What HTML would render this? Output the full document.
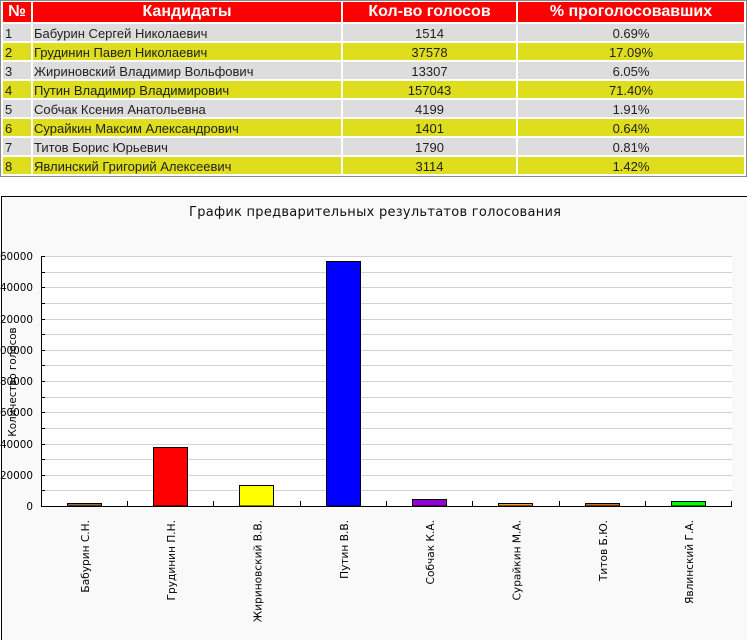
<!DOCTYPE html>
<html><head><meta charset="utf-8">
<style>
html,body{margin:0;padding:0;background:#fff;}
body{width:747px;height:640px;position:relative;overflow:hidden;font-family:"Liberation Sans",Arial,sans-serif;}
.tb{position:absolute;left:0;top:0;width:745px;height:175px;border:1px solid #8a8a8a;}
.c{position:absolute;height:17px;line-height:17px;font-size:13px;color:#222;white-space:nowrap;overflow:hidden;padding-top:1px;box-sizing:border-box;}
.h{position:absolute;top:2px;height:20px;line-height:20px;font-size:16px;font-weight:bold;color:#fff;background:#ff0000;text-align:center;white-space:nowrap;}
.g{background:#dddddd;}
.y{background:#dede1e;}
.c1{left:3px;width:28px;padding-left:2px;}
.c2{left:33px;width:308px;padding-left:1px;}
.c3{left:343px;width:173px;text-align:center;}
.c4{left:518px;width:226px;text-align:center;}
svg{position:absolute;left:0;top:0;}
</style></head><body>
<div class="tb"></div>
<div class="h" style="left:3px;width:28px;">№</div>
<div class="h" style="left:33px;width:308px;">Кандидаты</div>
<div class="h" style="left:343px;width:173px;">Кол-во голосов</div>
<div class="h" style="left:518px;width:226px;">% проголосовавших</div>

<div class="c g c1" style="top:24px">1</div><div class="c g c2" style="top:24px">Бабурин Сергей Николаевич</div><div class="c g c3" style="top:24px">1514</div><div class="c g c4" style="top:24px">0.69%</div>
<div class="c y c1" style="top:43px">2</div><div class="c y c2" style="top:43px">Грудинин Павел Николаевич</div><div class="c y c3" style="top:43px">37578</div><div class="c y c4" style="top:43px">17.09%</div>
<div class="c g c1" style="top:62px">3</div><div class="c g c2" style="top:62px">Жириновский Владимир Вольфович</div><div class="c g c3" style="top:62px">13307</div><div class="c g c4" style="top:62px">6.05%</div>
<div class="c y c1" style="top:81px">4</div><div class="c y c2" style="top:81px">Путин Владимир Владимирович</div><div class="c y c3" style="top:81px">157043</div><div class="c y c4" style="top:81px">71.40%</div>
<div class="c g c1" style="top:100px">5</div><div class="c g c2" style="top:100px">Собчак Ксения Анатольевна</div><div class="c g c3" style="top:100px">4199</div><div class="c g c4" style="top:100px">1.91%</div>
<div class="c y c1" style="top:119px">6</div><div class="c y c2" style="top:119px">Сурайкин Максим Александрович</div><div class="c y c3" style="top:119px">1401</div><div class="c y c4" style="top:119px">0.64%</div>
<div class="c g c1" style="top:138px">7</div><div class="c g c2" style="top:138px">Титов Борис Юрьевич</div><div class="c g c3" style="top:138px">1790</div><div class="c g c4" style="top:138px">0.81%</div>
<div class="c y c1" style="top:157px">8</div><div class="c y c2" style="top:157px">Явлинский Григорий Алексеевич</div><div class="c y c3" style="top:157px">3114</div><div class="c y c4" style="top:157px">1.42%</div>

<svg width="747" height="640" viewBox="0 0 747 640" xmlns="http://www.w3.org/2000/svg" font-family="DejaVu Sans, sans-serif">
<rect x="1" y="196" width="746" height="444" fill="#f9f9f9"/>
<line x1="1" y1="196.5" x2="747" y2="196.5" stroke="#000" stroke-width="1"/>
<line x1="1.5" y1="196" x2="1.5" y2="640" stroke="#000" stroke-width="1"/>
<text x="375" y="216" font-size="13" text-anchor="middle" fill="#111" textLength="372" lengthAdjust="spacing">График предварительных результатов голосования</text>
<rect x="41" y="256" width="691" height="250" fill="#fff"/>
<g stroke="#d2d2d2" stroke-width="1">
<line x1="41" y1="256.5" x2="732" y2="256.5"/>
<line x1="41" y1="272.5" x2="732" y2="272.5"/>
<line x1="41" y1="287.5" x2="732" y2="287.5"/>
<line x1="41" y1="303.5" x2="732" y2="303.5"/>
<line x1="41" y1="319.5" x2="732" y2="319.5"/>
<line x1="41" y1="334.5" x2="732" y2="334.5"/>
<line x1="41" y1="350.5" x2="732" y2="350.5"/>
<line x1="41" y1="365.5" x2="732" y2="365.5"/>
<line x1="41" y1="381.5" x2="732" y2="381.5"/>
<line x1="41" y1="397.5" x2="732" y2="397.5"/>
<line x1="41" y1="412.5" x2="732" y2="412.5"/>
<line x1="41" y1="428.5" x2="732" y2="428.5"/>
<line x1="41" y1="444.5" x2="732" y2="444.5"/>
<line x1="41" y1="459.5" x2="732" y2="459.5"/>
<line x1="41" y1="475.5" x2="732" y2="475.5"/>
<line x1="41" y1="490.5" x2="732" y2="490.5"/>
</g>
<g stroke="#000" stroke-width="1">
<line x1="41" y1="256.5" x2="45" y2="256.5"/>
<line x1="41" y1="272.5" x2="45" y2="272.5"/>
<line x1="41" y1="287.5" x2="45" y2="287.5"/>
<line x1="41" y1="303.5" x2="45" y2="303.5"/>
<line x1="41" y1="319.5" x2="45" y2="319.5"/>
<line x1="41" y1="334.5" x2="45" y2="334.5"/>
<line x1="41" y1="350.5" x2="45" y2="350.5"/>
<line x1="41" y1="365.5" x2="45" y2="365.5"/>
<line x1="41" y1="381.5" x2="45" y2="381.5"/>
<line x1="41" y1="397.5" x2="45" y2="397.5"/>
<line x1="41" y1="412.5" x2="45" y2="412.5"/>
<line x1="41" y1="428.5" x2="45" y2="428.5"/>
<line x1="41" y1="444.5" x2="45" y2="444.5"/>
<line x1="41" y1="459.5" x2="45" y2="459.5"/>
<line x1="41" y1="475.5" x2="45" y2="475.5"/>
<line x1="41" y1="490.5" x2="45" y2="490.5"/>
</g>
<g font-size="10.4" text-anchor="end" fill="#000">
<text x="33" y="260">160000</text>
<text x="33" y="291">140000</text>
<text x="33" y="323">120000</text>
<text x="33" y="354">100000</text>
<text x="33" y="385">80000</text>
<text x="33" y="416">60000</text>
<text x="33" y="448">40000</text>
<text x="33" y="479">20000</text>
<text x="33" y="510">0</text>
</g>
<text transform="translate(16,382) rotate(-90)" font-size="10.3" text-anchor="middle" fill="#000">Количество голосов</text>

<g stroke="#000" stroke-width="1">
<rect x="67.5" y="503.5" width="34" height="2.5" fill="#9c6a3c"/>
<rect x="153.5" y="447.5" width="34" height="58.5" fill="#ff0000"/>
<rect x="239.5" y="485.5" width="34" height="20.5" fill="#ffff00"/>
<rect x="326.5" y="261.5" width="34" height="244.5" fill="#0000ff"/>
<rect x="412.5" y="499.5" width="34" height="6.5" fill="#9400d3"/>
<rect x="498.5" y="503.5" width="34" height="2.5" fill="#f0a030"/>
<rect x="585.5" y="503.5" width="34" height="2.5" fill="#d2691e"/>
<rect x="671.5" y="501.5" width="34" height="4.5" fill="#00ff00"/>
</g>
<g stroke="#000" stroke-width="1">
<line x1="41.5" y1="256" x2="41.5" y2="507"/>
<line x1="41" y1="506.5" x2="732" y2="506.5"/>
<line x1="127.5" y1="501" x2="127.5" y2="506"/>
<line x1="213.5" y1="501" x2="213.5" y2="506"/>
<line x1="300.5" y1="501" x2="300.5" y2="506"/>
<line x1="386.5" y1="501" x2="386.5" y2="506"/>
<line x1="472.5" y1="501" x2="472.5" y2="506"/>
<line x1="559.5" y1="501" x2="559.5" y2="506"/>
<line x1="645.5" y1="501" x2="645.5" y2="506"/>
<line x1="731.5" y1="501" x2="731.5" y2="506"/>
</g>
<g font-size="10.6" text-anchor="end" fill="#000">
<text transform="translate(89,520) rotate(-90)">Бабурин С.Н.</text>
<text transform="translate(175,520) rotate(-90)">Грудинин П.Н.</text>
<text transform="translate(261.5,520) rotate(-90)">Жириновский В.В.</text>
<text transform="translate(348,520) rotate(-90)">Путин В.В.</text>
<text transform="translate(434,520) rotate(-90)">Собчак К.А.</text>
<text transform="translate(520.5,520) rotate(-90)">Сурайкин М.А.</text>
<text transform="translate(607,520) rotate(-90)">Титов Б.Ю.</text>
<text transform="translate(693,520) rotate(-90)">Явлинский Г.А.</text>
</g>
</svg>
</body></html>
